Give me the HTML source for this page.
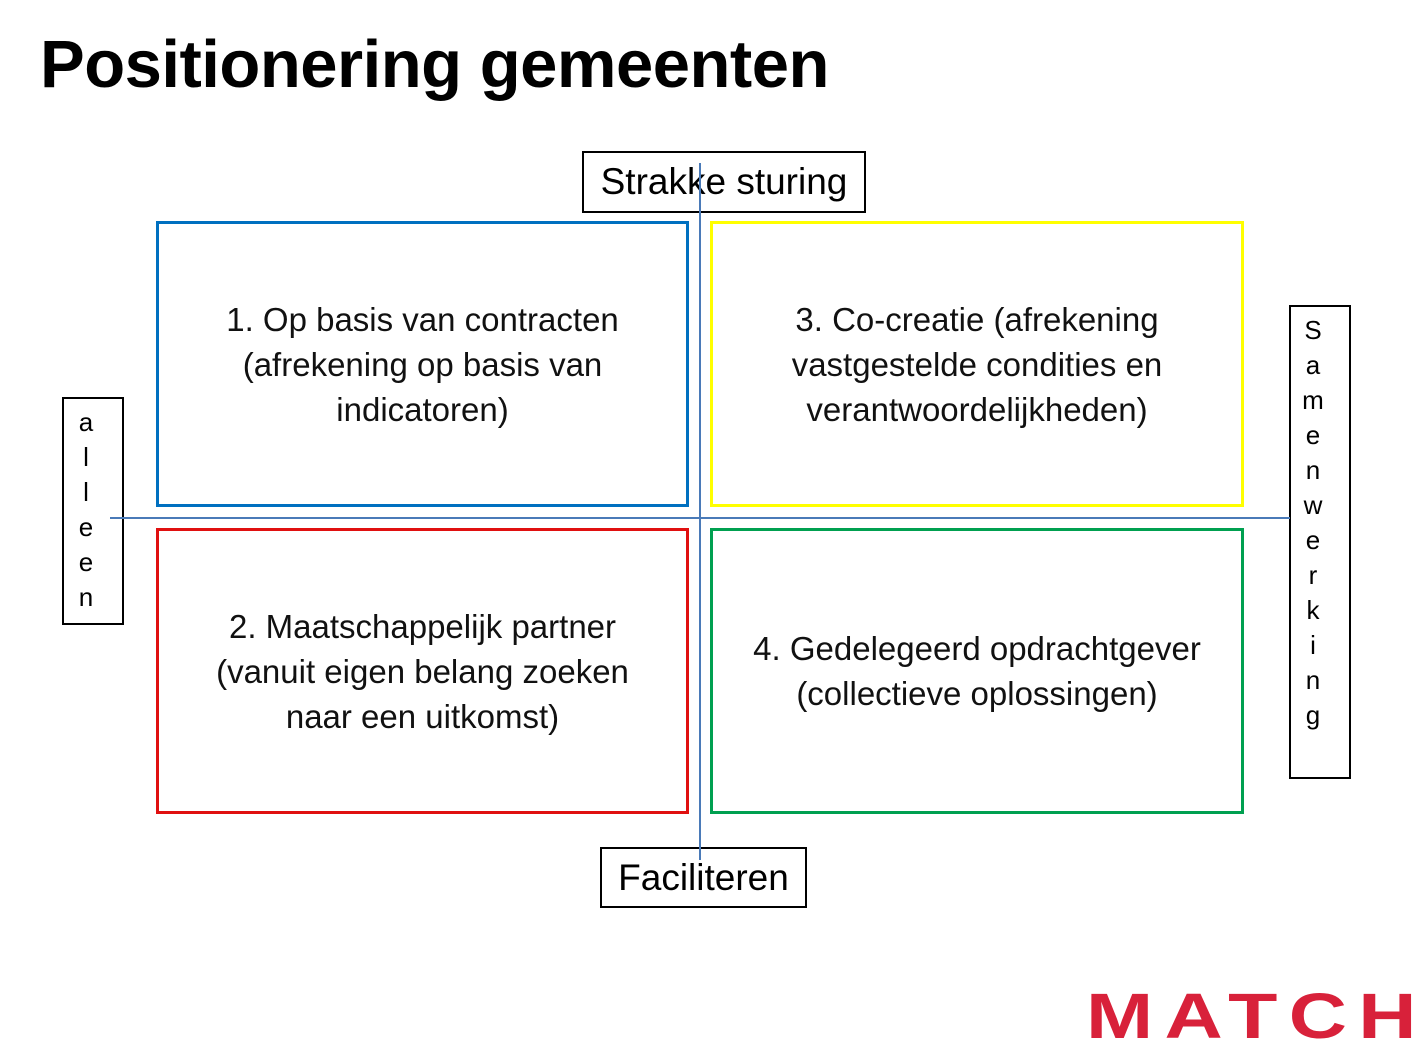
<!DOCTYPE html>
<html><head><meta charset="utf-8"><style>
body{margin:0;width:1421px;height:1049px;background:#fff;position:relative;overflow:hidden;font-family:"Liberation Sans",Arial,sans-serif;}
.a{position:absolute;box-sizing:border-box;}
.q{border:3px solid;display:flex;align-items:center;justify-content:center;text-align:center;font-size:33px;line-height:45px;color:#111;white-space:nowrap;}
.lbl{border:2px solid #000;display:flex;align-items:center;justify-content:center;font-size:37px;}
.v{border:2px solid #000;display:flex;flex-direction:column;align-items:center;font-size:26px;line-height:35px;padding-right:14px;}
</style></head><body>
<div class="a" style="left:40px;top:26px;font-size:67px;font-weight:bold;letter-spacing:-0.5px;">Positionering gemeenten</div>
<div class="a q" style="left:156px;top:221px;width:533px;height:286px;border-color:#0070c0;">1. Op basis van contracten<br>(afrekening op basis van<br>indicatoren)</div>
<div class="a q" style="left:710px;top:221px;width:534px;height:286px;border-color:#ffff00;">3. Co-creatie (afrekening<br>vastgestelde condities en<br>verantwoordelijkheden)</div>
<div class="a q" style="left:156px;top:528px;width:533px;height:286px;border-color:#e01010;">2. Maatschappelijk partner<br>(vanuit eigen belang zoeken<br>naar een uitkomst)</div>
<div class="a q" style="left:710px;top:528px;width:534px;height:286px;border-color:#00a050;">4. Gedelegeerd opdrachtgever<br>(collectieve oplossingen)</div>
<div class="a lbl" style="left:582px;top:151px;width:284px;height:62px;">Strakke sturing</div>
<div class="a lbl" style="left:600px;top:847px;width:207px;height:61px;">Faciliteren</div>
<div class="a v" style="left:62px;top:397px;width:62px;height:228px;padding-top:6px"><span>a</span><span>l</span><span>l</span><span>e</span><span>e</span><span>n</span></div>
<div class="a v" style="left:1289px;top:305px;width:62px;height:474px;padding-top:6px"><span>S</span><span>a</span><span>m</span><span>e</span><span>n</span><span>w</span><span>e</span><span>r</span><span>k</span><span>i</span><span>n</span><span>g</span></div>
<div class="a" style="left:699px;top:163px;width:2px;height:697px;background:#4a7ab8"></div>
<div class="a" style="left:110px;top:517px;width:1180px;height:2px;background:#4a7ab8"></div>
<div class="a" style="left:1086px;top:980px;font-size:64px;font-weight:bold;color:#d8213a;letter-spacing:9px;transform:scaleX(1.26);transform-origin:left;line-height:72px;">MATCH</div>
</body></html>
